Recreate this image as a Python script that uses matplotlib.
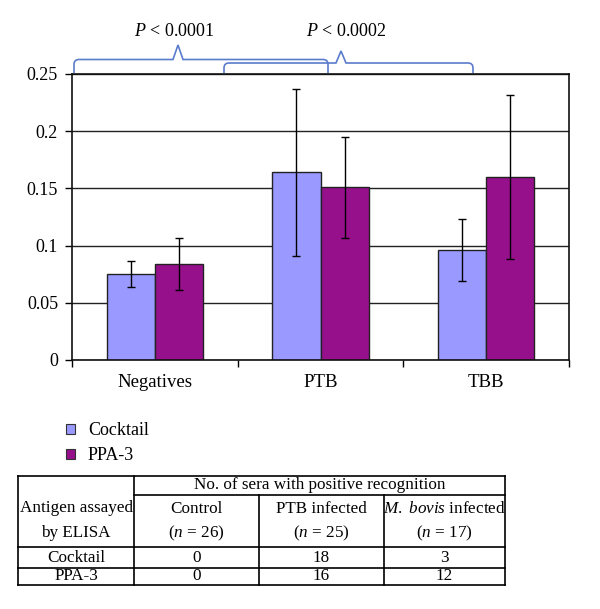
import numpy as np
import matplotlib
matplotlib.use('Agg')
import matplotlib.pyplot as plt
from matplotlib.path import Path
from matplotlib.patches import PathPatch
from matplotlib.lines import Line2D

plt.rcParams['font.family'] = ['Liberation Serif', 'DejaVu Serif']
plt.rcParams['mathtext.fontset'] = 'custom'
plt.rcParams['mathtext.rm'] = 'Liberation Serif'
plt.rcParams['mathtext.it'] = 'Liberation Serif:italic'

# chart data
categories = ['Negatives', 'PTB', 'TBB']
series = ['Cocktail', 'PPA-3']
cocktail = [0.075, 0.164, 0.096]
cocktail_err = [0.0115, 0.073, 0.027]
ppa3 = [0.084, 0.151, 0.160]
ppa3_err = [0.023, 0.044, 0.072]
p_labels = ['0.0001', '0.0002']

# table data
groups = ['Control', 'PTB infected', 'M. bovis infected']
group_n = [26, 25, 17]
table_cocktail = [0, 18, 3]
table_ppa3 = [0, 16, 12]

c_cocktail = '#9999ff'
c_ppa3 = '#96108c'
c_brace = '#5a7ccc'

W, H = 600, 609
fig = plt.figure(figsize=(W / 100, H / 100), dpi=100)


def fx(px):
    return px / W


def fy(py):
    return 1 - py / H


ax = fig.add_axes([fx(72), fy(360), fx(569) - fx(72), fy(74) - fy(360)])

x = np.arange(len(categories))
bw = 0.29
ax.bar(x - bw / 2, cocktail, bw, color=c_cocktail, edgecolor='#222222', lw=1.0, zorder=2)
ax.bar(x + bw / 2, ppa3, bw, color=c_ppa3, edgecolor='#222222', lw=1.0, zorder=2)
ax.errorbar(x - bw / 2, cocktail, yerr=cocktail_err, fmt='none', ecolor='black', elinewidth=1.0,
            capsize=3, capthick=1.0, zorder=3)
ax.errorbar(x + bw / 2, ppa3, yerr=ppa3_err, fmt='none', ecolor='black', elinewidth=1.0,
            capsize=3, capthick=1.0, zorder=3)

ax.set_xlim(-0.5, 2.5)
ax.set_ylim(0, 0.25)
ax.set_yticks([0, 0.05, 0.1, 0.15, 0.2, 0.25])
ax.set_yticklabels(['0', '0.05', '0.1', '0.15', '0.2', '0.25'], fontsize=13)
ax.yaxis.grid(True, color='#222222', lw=1.0)
ax.set_axisbelow(True)
ax.set_xticks(x)
ax.set_xticklabels(categories, fontsize=13.5)
ax.set_xticks([-0.5, 0.5, 1.5, 2.5], minor=True)
ax.tick_params(axis='x', which='major', length=0, pad=10)
ax.tick_params(axis='x', which='minor', length=5, width=1.0, direction='out')
ax.tick_params(axis='y', length=5, width=1.0, pad=5)
for s in ax.spines.values():
    s.set_linewidth(1.2)
    s.set_color('#111111')


def brace(x0, x1, xp, yb, yh, ytip, r=5, s=5):
    verts = [(x0, yb), (x0, yh + r), (x0, yh), (x0 + r, yh),
             (xp - s, yh), (xp, ytip), (xp + s, yh),
             (x1 - r, yh), (x1, yh), (x1, yh + r), (x1, yb)]
    codes = [Path.MOVETO, Path.LINETO, Path.CURVE3, Path.CURVE3,
             Path.LINETO, Path.LINETO, Path.LINETO,
             Path.LINETO, Path.CURVE3, Path.CURVE3, Path.LINETO]
    verts = [(fx(a), fy(b)) for a, b in verts]
    fig.patches.append(PathPatch(Path(verts, codes), transform=fig.transFigure, fill=False,
                                 edgecolor=c_brace, lw=1.2))


brace(74, 328, 178, 73, 59.5, 45)
brace(224, 473, 341, 73, 63, 51)
fig.text(fx(174), fy(31), r'$P$ < ' + p_labels[0], ha='center', va='center', fontsize=13)
fig.text(fx(346), fy(31), r'$P$ < ' + p_labels[1], ha='center', va='center', fontsize=13)

handles = [plt.Rectangle((0, 0), 1, 1, facecolor=c, edgecolor='#333333', lw=0.8)
           for c in (c_cocktail, c_ppa3)]
fig.legend(handles, series, loc='upper left', bbox_to_anchor=(fx(50), fy(406)), frameon=False,
           fontsize=13, handlelength=0.5, handleheight=0.5, handletextpad=0.7, labelspacing=0.45)

# table
tx = [17.7, 134.3, 258.7, 384.3, 505]
ty = [476, 494.7, 547, 567.7, 585]
lw = 1.2


def hline(y, a, b):
    fig.add_artist(Line2D([fx(a), fx(b)], [fy(y), fy(y)], color='black', lw=lw,
                          transform=fig.transFigure))


def vline(xx, a, b):
    fig.add_artist(Line2D([fx(xx), fx(xx)], [fy(a), fy(b)], color='black', lw=lw,
                          transform=fig.transFigure))


hline(ty[0], tx[0], tx[4])
hline(ty[1], tx[1], tx[4])
hline(ty[2], tx[0], tx[4])
hline(ty[3], tx[0], tx[4])
hline(ty[4], tx[0], tx[4])
vline(tx[0], ty[0], ty[4])
vline(tx[1], ty[0], ty[4])
vline(tx[2], ty[1], ty[4])
vline(tx[3], ty[1], ty[4])
vline(tx[4], ty[0], ty[4])

fs = 12.3
fig.text(fx((tx[0] + tx[1]) / 2), fy(508), 'Antigen assayed', ha='center', va='center', fontsize=fs)
fig.text(fx((tx[0] + tx[1]) / 2), fy(533), 'by ELISA', ha='center', va='center', fontsize=fs)
fig.text(fx((tx[1] + tx[4]) / 2), fy(485), 'No. of sera with positive recognition', ha='center',
         va='center', fontsize=fs)
for i, (g, n) in enumerate(zip(groups, group_n)):
    cx = (tx[i + 1] + tx[i + 2]) / 2
    if g.startswith('M. bovis'):
        g = r'$\mathit{M.}$ $\mathit{bovis}$' + g[len('M. bovis'):]
    fig.text(fx(cx), fy(509), g, ha='center', va='center', fontsize=fs)
    fig.text(fx(cx), fy(533), '($n$ = %d)' % n, ha='center', va='center', fontsize=fs)
for label, vals, yy in (('Cocktail', table_cocktail, 557.5), ('PPA-3', table_ppa3, 576.5)):
    fig.text(fx((tx[0] + tx[1]) / 2), fy(yy), label, ha='center', va='center', fontsize=fs)
    for i, v in enumerate(vals):
        fig.text(fx((tx[i + 1] + tx[i + 2]) / 2), fy(yy), str(v), ha='center', va='center', fontsize=fs)

fig.savefig('out.png', dpi=100)
